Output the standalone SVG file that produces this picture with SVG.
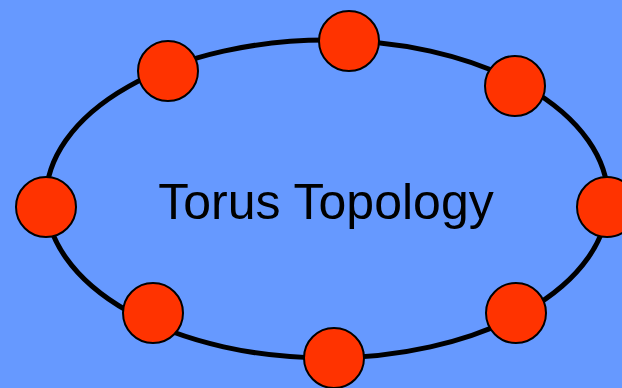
<svg xmlns="http://www.w3.org/2000/svg" width="622" height="388" viewBox="0 0 622 388">
<style>
.node{fill:#FF3300;stroke:#000;stroke-width:2}
.ring{fill:none;stroke:#000;stroke-width:5}
.label{font-family:"Liberation Sans",Arial,sans-serif;font-size:50px;fill:#000}
</style>
<rect width="622" height="388" fill="#6699FF"/>
<g id="connectors">
<ellipse class="ring" cx="327" cy="199" rx="281" ry="159"/>
</g>
<text class="label" x="326" y="219" text-anchor="middle">Torus Topology</text>
<g id="n1"><circle class="node" cx="168" cy="71" r="30"/></g>
<g id="n2"><circle class="node" cx="349" cy="41" r="30"/></g>
<g id="n3"><circle class="node" cx="515" cy="86" r="30"/></g>
<g id="n4"><circle class="node" cx="607" cy="207" r="30"/></g>
<g id="n5"><circle class="node" cx="516" cy="313" r="30"/></g>
<g id="n6"><circle class="node" cx="334" cy="358" r="30"/></g>
<g id="n7"><circle class="node" cx="153" cy="313" r="30"/></g>
<g id="n8"><circle class="node" cx="46" cy="207" r="30"/></g>
</svg>
